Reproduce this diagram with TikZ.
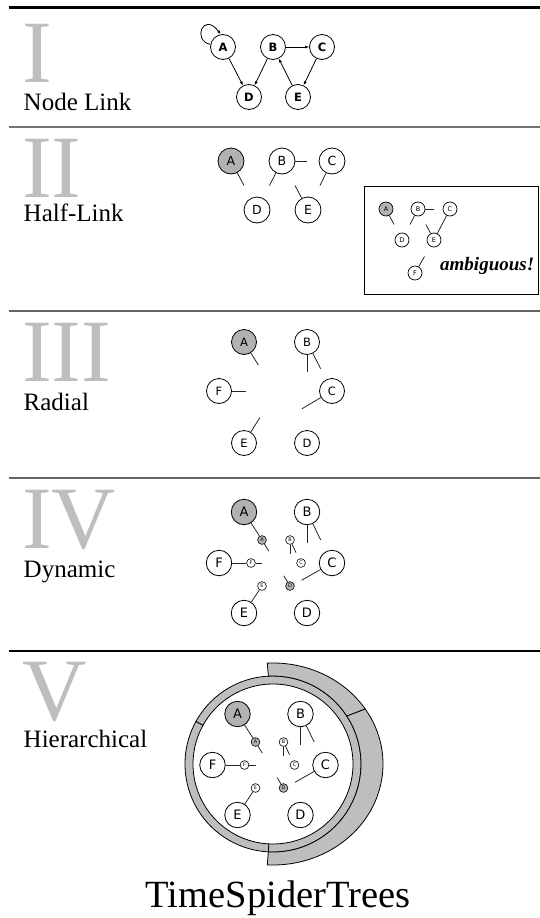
\documentclass[tikz,border=0pt]{standalone}
\usepackage{fontspec}
\setmainfont{Liberation Serif}
\newfontfamily\ndfont{DejaVu Sans}
\usetikzlibrary{calc,arrows.meta}
\definecolor{romgray}{RGB}{190,190,190}
\definecolor{ndgray}{RGB}{178,178,178}
\definecolor{ringgray}{RGB}{190,190,190}
\tikzset{
  nd/.style={circle,draw=black,line width=0.8pt,fill=white,inner sep=0pt,minimum size=25.5pt,font=\ndfont\fontsize{13}{13}\selectfont},
  ndA/.style={nd,fill=ndgray},
  ndI/.style={nd,minimum size=25pt,font=\ndfont\bfseries\fontsize{11.5}{11.5}\selectfont},
  ndII/.style={nd,minimum size=26pt,font=\ndfont\fontsize{12.5}{12.5}\selectfont},
  ndIII/.style={nd,minimum size=25pt,font=\ndfont\fontsize{11.5}{11.5}\selectfont},
  sm/.style={circle,draw=black,line width=0.6pt,fill=white,inner sep=0pt,minimum size=8.8pt,font=\ndfont\fontsize{5}{5}\selectfont},
  smA/.style={sm,fill=ndgray},
  ins/.style={circle,draw=black,line width=0.7pt,fill=white,inner sep=0pt,minimum size=14pt,font=\ndfont\fontsize{6.5}{6.5}\selectfont},
  hl/.style={line width=0.8pt,draw=black!85},
  arr/.style={line width=0.8pt,-{Latex[length=4pt,width=3pt]}},
  roman/.style={anchor=base west,inner sep=0pt,text depth=0pt,text height=59pt,text=romgray,font=\fontsize{89}{89}\selectfont},
  lab/.style={anchor=base west,inner sep=0pt,text height=17pt,font=\fontsize{25}{25}\selectfont},
  sepline/.style={line width=1.2pt,draw=black!60},
  ring/.style={draw=black,line width=0.8pt,fill=ringgray}
}
\newcommand{\dynlayout}[1]{%
  \node[ndA] (A#1) at (244,-512) {A};
  \node[nd] (B#1) at (307,-512) {B};
  \node[nd] (C#1) at (332,-563) {C};
  \node[nd] (D#1) at (307,-613) {D};
  \node[nd] (E#1) at (244,-613) {E};
  \node[nd] (F#1) at (219,-563) {F};
  \node[smA] (a#1) at (262,-540) {A};
  \node[sm] (b#1) at (290,-540) {B};
  \node[sm] (c#1) at (301,-563) {C};
  \node[smA] (d#1) at (290,-586) {D};
  \node[sm] (e#1) at (262,-586) {E};
  \node[sm] (f#1) at (251,-563) {F};
  \draw[hl] (A#1) -- (a#1);
  \draw[hl] (a#1) -- ($(a#1)!13pt!(d#1)$);
  \draw[hl] (B#1) -- ($(B#1)!31pt!(D#1)$);
  \draw[hl] (B#1) -- ($(B#1)!31pt!(C#1)$);
  \draw[hl] (b#1) -- ($(b#1)!14pt!(d#1)$);
  \draw[hl] (b#1) -- ($(b#1)!14pt!(c#1)$);
  \draw[hl] (C#1) -- ($(C#1)!35pt!(E#1)$);
  \draw[hl] (F#1) -- (f#1);
  \draw[hl] (f#1) -- ($(f#1)!11pt!(c#1)$);
  \draw[hl] (E#1) -- (e#1);
  \draw[hl] (d#1) -- ($(d#1)!12pt!(a#1)$);
}
\begin{document}
\begin{tikzpicture}[x=1pt,y=1pt]
\useasboundingbox (0,0) rectangle (540,-918);
% separators
\draw[line width=2.5pt,black] (8.5,-7.5) -- (540,-7.5);
\draw[line width=1.6pt,black!55] (9,-127) -- (540,-127);
\draw[sepline] (9,-311) -- (540,-311);
\draw[sepline] (9,-478) -- (540,-478);
\draw[line width=1.1pt,black] (9,-651) -- (540,-651);
% left labels
\node[roman] (r1) at (22,-82) {I};
\node[lab] (l1) at (23.5,-110) {Node Link};
\node[roman] (r2) at (22,-197) {II};
\node[lab] (l2) at (23.5,-221) {Half-Link};
\node[roman] (r3) at (22,-381) {III};
\node[lab] (l3) at (23.5,-410) {Radial};
\node[roman] (r4) at (22,-548) {IV};
\node[lab] (l4) at (23.5,-577) {Dynamic};
\node[roman] (r5) at (22,-720) {V};
\node[lab] (l5) at (23.5,-747) {Hierarchical};
% ---------- I: node link
\node[ndI] (A1) at (223,-47) {A};
\node[ndI] (B1) at (273,-47) {B};
\node[ndI] (C1) at (322,-47) {C};
\node[ndI] (D1) at (249,-97) {D};
\node[ndI] (E1) at (298,-97) {E};
\draw[arr] (A1) -- (D1);
\draw[arr] (B1) -- (D1);
\draw[arr] (B1) -- (C1);
\draw[arr] (E1) -- (B1);
\draw[arr] (C1) -- (E1);
\draw[arr] (A1.168) .. controls (192,-41) and (203,-11) .. (A1.100);
% ---------- II: half link
\node[ndII,fill=ndgray] (A2) at (231,-161) {A};
\node[ndII] (B2) at (282,-161) {B};
\node[ndII] (C2) at (332,-161) {C};
\node[ndII] (D2) at (257,-210) {D};
\node[ndII] (E2) at (308,-210) {E};
\draw[hl] (A2) -- ($(A2)!0.5!(D2)$);
\draw[hl] (B2) -- ($(B2)!0.5!(D2)$);
\draw[hl] (B2) -- ($(B2)!0.5!(C2)$);
\draw[hl] (C2) -- ($(C2)!0.5!(E2)$);
\draw[hl] (E2) -- ($(E2)!0.5!(B2)$);
% inset
\draw[line width=0.9pt] (364,-186) rectangle (538.5,-294);
\node[ins,fill=ndgray] (Ai) at (386,-209) {A};
\node[ins] (Bi) at (418,-209) {B};
\node[ins] (Ci) at (450,-209) {C};
\node[ins] (Di) at (402,-240) {D};
\node[ins] (Ei) at (434,-240) {E};
\node[ins] (Fi) at (415,-273) {F};
\draw[hl] (Ai) -- ($(Ai)!0.5!(Di)$);
\draw[hl] (Bi) -- ($(Bi)!0.5!(Di)$);
\draw[hl] (Bi) -- ($(Bi)!0.5!(Ci)$);
\draw[hl] (Ci) -- (Ei);
\draw[hl] (Ei) -- ($(Ei)!0.5!(Bi)$);
\draw[hl] (Fi) -- ($(Fi)!0.5!(Ei)$);
\node[anchor=base west,inner sep=0pt,font=\bfseries\itshape\fontsize{19}{19}\selectfont] (amb) at (440,-270) {ambiguous!};
% ---------- III: radial
\node[ndIII,fill=ndgray] (A3) at (244,-342) {A};
\node[ndIII] (B3) at (307,-342) {B};
\node[ndIII] (C3) at (332,-391) {C};
\node[ndIII] (D3) at (307,-443) {D};
\node[ndIII] (E3) at (244,-443) {E};
\node[ndIII] (F3) at (219,-391) {F};
\draw[hl] (A3) -- ($(A3)!27pt!(D3)$);
\draw[hl] (B3) -- ($(B3)!30pt!(D3)$);
\draw[hl] (B3) -- ($(B3)!30pt!(C3)$);
\draw[hl] (C3) -- ($(C3)!35pt!(E3)$);
\draw[hl] (F3) -- ($(F3)!27pt!(C3)$);
\draw[hl] (E3) -- ($(E3)!30pt!(B3)$);
% ---------- IV: dynamic
\dynlayout{4}
% ---------- V: hierarchical
\coordinate (O) at (273,-764);
\draw[ring] ($(O)+(151:88)$) arc[start angle=151,end angle=267,radius=88] -- ($(O)+(267:80)$) arc[start angle=267,end angle=151,radius=80] -- cycle;
\draw[ring] ($(O)+(267:88)$) arc[start angle=267,end angle=511,radius=88] -- ($(O)+(511:80)$) arc[start angle=511,end angle=267,radius=80] -- cycle;
\draw[ring] ($(O)+(93:88)$) -- ($(O)+(93:110 and 101)$) arc[start angle=93,end angle=33,x radius=110,y radius=101] -- ($(O)+(33:88)$) arc[start angle=33,end angle=93,radius=88] -- cycle;
\draw[ring] ($(O)+(33:88)$) -- ($(O)+(33:110 and 101)$) arc[start angle=33,end angle=-93,x radius=110,y radius=101] -- ($(O)+(-93:88)$) arc[start angle=-93,end angle=33,radius=88] -- cycle;
\begin{scope}[shift={(-6.5,-202)}]
\dynlayout{5}
\end{scope}
% title
\node[anchor=base,inner sep=0pt,font=\fontsize{38.5}{38.5}\selectfont] (title) at (278,-907) {TimeSpiderTrees};
\end{tikzpicture}
\end{document}
